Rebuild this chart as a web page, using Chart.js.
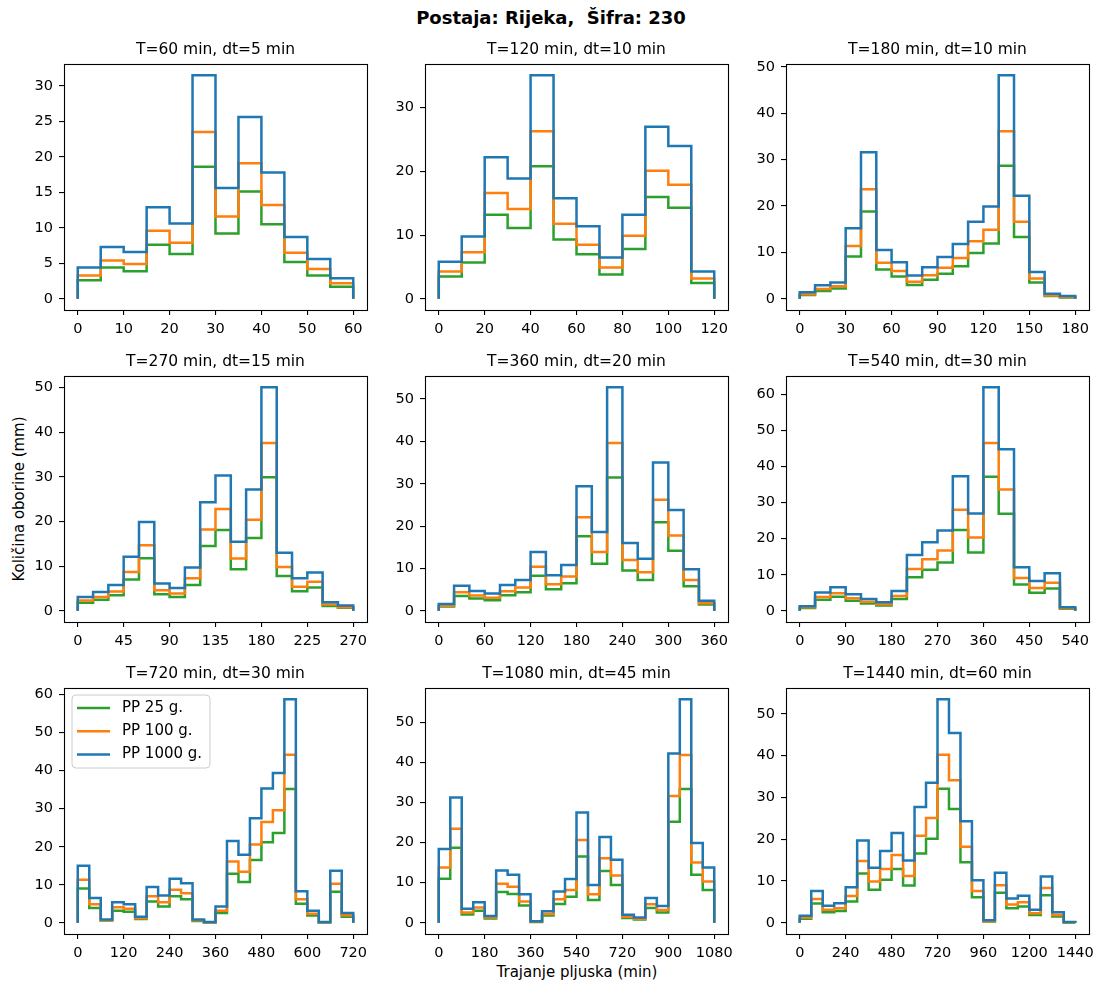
<!DOCTYPE html>
<html><head><meta charset="utf-8">
<script src="https://cdn.jsdelivr.net/npm/chart.js@4"></script>
<style>
html,body{margin:0;padding:0;background:#fff;overflow:hidden;width:1102px;height:982px;}
body{position:relative;font-family:"DejaVu Sans",sans-serif;color:#000;}
canvas{position:absolute;}
.txt{position:absolute;white-space:pre;color:#000;}
</style></head><body>
<div class="txt" style="left:0;width:1102px;text-align:center;top:7px;font-weight:bold;font-size:18px;">Postaja: Rijeka,  Šifra: 230</div>
<div class="txt" style="left:19px;top:499px;font-size:15px;transform:translate(-50%,-50%) rotate(-90deg);">Količina oborine (mm)</div>
<div class="txt" style="left:577px;top:972px;font-size:15px;transform:translate(-50%,-50%);">Trajanje pljuska (min)</div>
<script>
const durations = [60,120,180,270,360,540,720,1080,1440];
const timeSteps = [5,10,10,15,20,30,30,45,60];
const xTickSteps = [10,20,30,45,60,90,120,180,240];
const yTickSteps = [5,10,10,10,10,10,10,10,10];
const seriesLabels = ['PP 25 g.','PP 100 g.','PP 1000 g.'];
const seriesColors = ['#2ca02c','#ff7f0e','#1f77b4'];

const pp1000_T60 = [4.4, 7.3, 6.6, 12.9, 10.6, 31.5, 15.6, 25.6, 17.8, 8.7, 5.6, 2.9];
const pp100_T60  = [3.3, 5.4, 4.9, 9.6, 7.9, 23.5, 11.6, 19.1, 13.2, 6.5, 4.2, 2.2];
const pp25_T60   = [2.6, 4.4, 3.9, 7.6, 6.3, 18.6, 9.2, 15.1, 10.5, 5.2, 3.3, 1.7];

const pp1000_T120 = [5.8, 9.8, 22.2, 18.9, 35.1, 15.8, 11.4, 6.5, 13.2, 27.0, 24.0, 4.3];
const pp100_T120  = [4.3, 7.3, 16.6, 14.1, 26.3, 11.8, 8.5, 4.9, 9.9, 20.1, 17.9, 3.2];
const pp25_T120   = [3.5, 5.7, 13.2, 11.1, 20.8, 9.3, 7.0, 3.8, 7.8, 16.0, 14.3, 2.5];

const pp1000_T180 = [1.4, 2.9, 3.5, 15.2, 31.6, 10.5, 7.9, 5.0, 6.8, 9.0, 11.8, 16.6, 19.9, 48.2, 22.2, 5.8, 1.1, 0.6];
const pp100_T180  = [1.0, 2.1, 2.7, 11.4, 23.6, 7.8, 6.0, 3.7, 5.1, 6.7, 8.8, 12.4, 14.9, 36.1, 16.6, 4.4, 0.7, 0.4];
const pp25_T180   = [0.8, 1.7, 2.2, 9.1, 18.8, 6.3, 4.8, 3.0, 4.1, 5.4, 7.0, 9.9, 11.9, 28.7, 13.3, 3.5, 0.6, 0.3];

const pp1000_T270 = [3.1, 4.2, 5.8, 12.1, 19.9, 6.1, 5.1, 9.7, 24.3, 30.3, 15.5, 27.2, 50.1, 13.0, 7.3, 8.6, 1.9, 1.2];
const pp100_T270  = [2.3, 3.1, 4.3, 8.7, 14.7, 4.6, 3.9, 7.3, 18.2, 22.8, 11.7, 20.4, 37.6, 9.8, 5.4, 6.5, 1.4, 0.8];
const pp25_T270   = [1.8, 2.5, 3.5, 7.0, 11.8, 3.7, 3.1, 5.8, 14.5, 18.1, 9.3, 16.3, 29.9, 7.8, 4.4, 5.2, 1.1, 0.7];

const pp1000_T360 = [1.6, 5.9, 4.7, 4.1, 6.1, 7.3, 13.9, 8.4, 10.8, 29.4, 18.6, 52.8, 16.0, 12.3, 35.0, 23.8, 9.8, 2.4];
const pp100_T360  = [1.2, 4.4, 3.6, 3.1, 4.6, 5.5, 10.4, 6.3, 8.1, 22.1, 13.9, 39.6, 12.0, 9.1, 26.2, 17.8, 7.3, 1.8];
const pp25_T360   = [1.0, 3.5, 2.9, 2.5, 3.7, 4.4, 8.3, 5.1, 6.5, 17.6, 11.1, 31.5, 9.5, 7.3, 20.9, 14.2, 5.8, 1.5];

const pp1000_T540 = [1.3, 5.1, 6.5, 4.6, 3.3, 2.4, 5.5, 15.5, 19.0, 22.3, 37.3, 27.0, 62.0, 44.8, 12.1, 8.3, 10.4, 1.0];
const pp100_T540  = [1.0, 3.8, 4.9, 3.5, 2.5, 1.8, 4.1, 11.6, 14.3, 16.7, 28.0, 20.3, 46.5, 33.6, 9.1, 6.3, 7.8, 0.7];
const pp25_T540   = [0.8, 3.1, 3.9, 2.8, 2.0, 1.5, 3.3, 9.3, 11.4, 13.4, 22.4, 16.2, 37.2, 26.9, 7.3, 5.0, 6.2, 0.6];

const pp1000_T720 = [15.0, 6.5, 0.9, 5.4, 4.9, 1.6, 9.4, 7.2, 11.6, 10.4, 0.9, 0.2, 4.3, 21.5, 17.9, 27.5, 35.3, 39.4, 58.8, 8.3, 3.2, 0.2, 13.7, 2.6];
const pp100_T720  = [11.3, 4.9, 0.7, 4.1, 3.7, 1.2, 7.0, 5.4, 8.7, 7.8, 0.7, 0.15, 3.2, 16.1, 13.4, 20.6, 26.5, 29.6, 44.2, 6.2, 2.4, 0.15, 10.3, 2.0];
const pp25_T720   = [9.0, 3.9, 0.6, 3.2, 2.9, 1.0, 5.6, 4.3, 7.0, 6.2, 0.5, 0.1, 2.6, 12.9, 10.7, 16.5, 21.2, 23.6, 35.2, 5.0, 1.9, 0.1, 8.2, 1.6];

const pp1000_T1080 = [18.4, 31.2, 3.5, 5.1, 1.7, 13.0, 12.0, 7.1, 0.4, 2.9, 7.8, 10.9, 27.5, 9.4, 21.4, 15.7, 2.0, 1.3, 6.2, 4.2, 42.2, 55.7, 19.9, 13.8];
const pp100_T1080  = [13.8, 23.4, 2.6, 3.8, 1.3, 9.7, 9.0, 5.3, 0.3, 2.2, 5.9, 8.2, 20.6, 7.1, 16.1, 11.8, 1.5, 1.0, 4.6, 3.2, 31.6, 41.8, 15.0, 10.3];
const pp25_T1080   = [11.0, 18.7, 2.1, 3.0, 1.1, 7.7, 7.2, 4.3, 0.2, 1.8, 4.7, 6.5, 16.5, 5.7, 12.9, 9.4, 1.2, 0.8, 3.7, 2.6, 25.2, 33.3, 12.0, 8.2];

const pp1000_T1440 = [1.7, 7.6, 4.1, 4.7, 8.5, 19.7, 13.2, 17.2, 21.5, 14.9, 27.7, 33.5, 53.5, 45.4, 24.3, 10.2, 0.6, 12.0, 5.8, 6.5, 3.1, 11.1, 2.5, 0.2];
const pp100_T1440  = [1.3, 5.7, 3.1, 3.5, 6.4, 14.8, 9.9, 12.9, 16.2, 11.2, 20.8, 25.1, 40.2, 34.1, 18.2, 7.6, 0.4, 9.0, 4.4, 4.9, 2.3, 8.3, 1.9, 0.15];
const pp25_T1440   = [1.0, 4.6, 2.5, 2.8, 5.1, 11.8, 7.9, 10.3, 12.9, 8.9, 16.6, 20.1, 32.1, 27.2, 14.5, 6.1, 0.3, 7.2, 3.5, 3.9, 1.9, 6.6, 1.5, 0.1];

const pp25All   = [pp25_T60, pp25_T120, pp25_T180, pp25_T270, pp25_T360, pp25_T540, pp25_T720, pp25_T1080, pp25_T1440];
const pp100All  = [pp100_T60, pp100_T120, pp100_T180, pp100_T270, pp100_T360, pp100_T540, pp100_T720, pp100_T1080, pp100_T1440];
const pp1000All = [pp1000_T60, pp1000_T120, pp1000_T180, pp1000_T270, pp1000_T360, pp1000_T540, pp1000_T720, pp1000_T1080, pp1000_T1440];

// layout
const BOX_W = 303, BOX_H = 246, PAD_L = 60, PAD_T = 30, PAD_R = 12, PAD_B = 36;
const TICK_FONT = {family: '"DejaVu Sans", sans-serif', size: 14.5};

function stepPoints(vals, dt, T) {
  const pts = [{x: 0, y: 0}];
  vals.forEach((v, i) => pts.push({x: i * dt, y: v}));
  pts.push({x: T, y: vals[vals.length - 1]});
  pts.push({x: T, y: 0});
  return pts;
}

const panelPlugin = {
  id: 'panel',
  afterDatasetsDraw(chart, args, opts) {
    const ctx = chart.ctx, a = chart.chartArea;
    ctx.save();
    ctx.strokeStyle = '#000';
    ctx.lineWidth = 1.1;
    ctx.strokeRect(Math.round(a.left) + 0.5, Math.round(a.top) + 0.5, Math.round(a.right - a.left), Math.round(a.bottom - a.top));
    ctx.fillStyle = '#000';
    ctx.font = '15.5px "DejaVu Sans", sans-serif';
    ctx.textAlign = 'center';
    ctx.textBaseline = 'middle';
    ctx.fillText(opts.title, (a.left + a.right) / 2, a.top - 14);
    if (opts.legend) {
      const x0 = a.left + 8, y0 = a.top + 7, w = 138, h = 73, r = 4;
      ctx.beginPath();
      ctx.moveTo(x0 + r, y0);
      ctx.arcTo(x0 + w, y0, x0 + w, y0 + h, r);
      ctx.arcTo(x0 + w, y0 + h, x0, y0 + h, r);
      ctx.arcTo(x0, y0 + h, x0, y0, r);
      ctx.arcTo(x0, y0, x0 + w, y0, r);
      ctx.closePath();
      ctx.fillStyle = 'rgba(255,255,255,0.8)';
      ctx.fill();
      ctx.strokeStyle = '#cccccc';
      ctx.lineWidth = 1;
      ctx.stroke();
      ctx.font = '15px "DejaVu Sans", sans-serif';
      ctx.textAlign = 'left';
      chart.data.datasets.forEach((ds, k) => {
        const yy = y0 + 13 + k * 23.2;
        ctx.strokeStyle = ds.borderColor;
        ctx.lineWidth = 2.5;
        ctx.beginPath();
        ctx.moveTo(x0 + 5, yy);
        ctx.lineTo(x0 + 38, yy);
        ctx.stroke();
        ctx.fillStyle = '#000';
        ctx.fillText(ds.label, x0 + 50, yy);
      });
    }
    ctx.restore();
  }
};

durations.forEach((T, i) => {
  const dt = timeSteps[i];
  const col = i % 3, row = Math.floor(i / 3);
  const boxLeft = 64 + col * 361, boxTop = 64 + row * 312;
  const cv = document.createElement('canvas');
  const cw = PAD_L + BOX_W + PAD_R, ch = PAD_T + BOX_H + PAD_B;
  cv.width = cw; cv.height = ch;
  cv.style.left = (boxLeft - PAD_L) + 'px';
  cv.style.top = (boxTop - PAD_T) + 'px';
  cv.style.width = cw + 'px'; cv.style.height = ch + 'px';
  document.body.appendChild(cv);

  const series = [pp25All[i], pp100All[i], pp1000All[i]];
  const ymax = Math.max(...series.flat());
  const xStep = xTickSteps[i], yStep = yTickSteps[i];

  new Chart(cv, {
    type: 'line',
    data: {
      datasets: series.map((vals, k) => ({
        label: seriesLabels[k],
        data: stepPoints(vals, dt, T),
        borderColor: seriesColors[k],
        backgroundColor: seriesColors[k],
        borderWidth: 2.5,
        pointRadius: 0,
        stepped: true,
        fill: false,
        order: 3 - k,
        borderJoinStyle: 'miter'
      }))
    },
    options: {
      responsive: false,
      animation: false,
      events: [],
      layout: {padding: {left: 0, top: PAD_T, right: PAD_R, bottom: 0}},
      plugins: {
        legend: {display: false},
        tooltip: {enabled: false},
        title: {display: false},
        panel: {title: 'T=' + T + ' min, dt=' + dt + ' min', legend: i === 6}
      },
      scales: {
        x: {
          type: 'linear',
          min: -0.05 * T,
          max: 1.05 * T,
          afterBuildTicks: (ax) => {
            const t = [];
            for (let v = 0; v <= T + 1e-9; v += xStep) t.push({value: v});
            ax.ticks = t;
          },
          afterFit: (ax) => { ax.height = PAD_B; },
          ticks: {autoSkip: false, maxRotation: 0, minRotation: 0, padding: 6, color: '#000', font: TICK_FONT, callback: (v) => String(v)},
          grid: {drawOnChartArea: false, drawTicks: true, tickLength: 5, color: '#000', lineWidth: 1.1},
          border: {display: false}
        },
        y: {
          type: 'linear',
          min: -0.05 * ymax,
          max: 1.05 * ymax,
          afterBuildTicks: (ax) => {
            const t = [];
            for (let v = 0; v <= ymax * 1.05; v += yStep) t.push({value: v});
            ax.ticks = t;
          },
          afterFit: (ax) => { ax.width = PAD_L; },
          ticks: {autoSkip: false, padding: 6, color: '#000', font: TICK_FONT, callback: (v) => String(v)},
          grid: {drawOnChartArea: false, drawTicks: true, tickLength: 5, color: '#000', lineWidth: 1.1},
          border: {display: false}
        }
      }
    },
    plugins: [panelPlugin]
  });
});
</script>
</body></html>
